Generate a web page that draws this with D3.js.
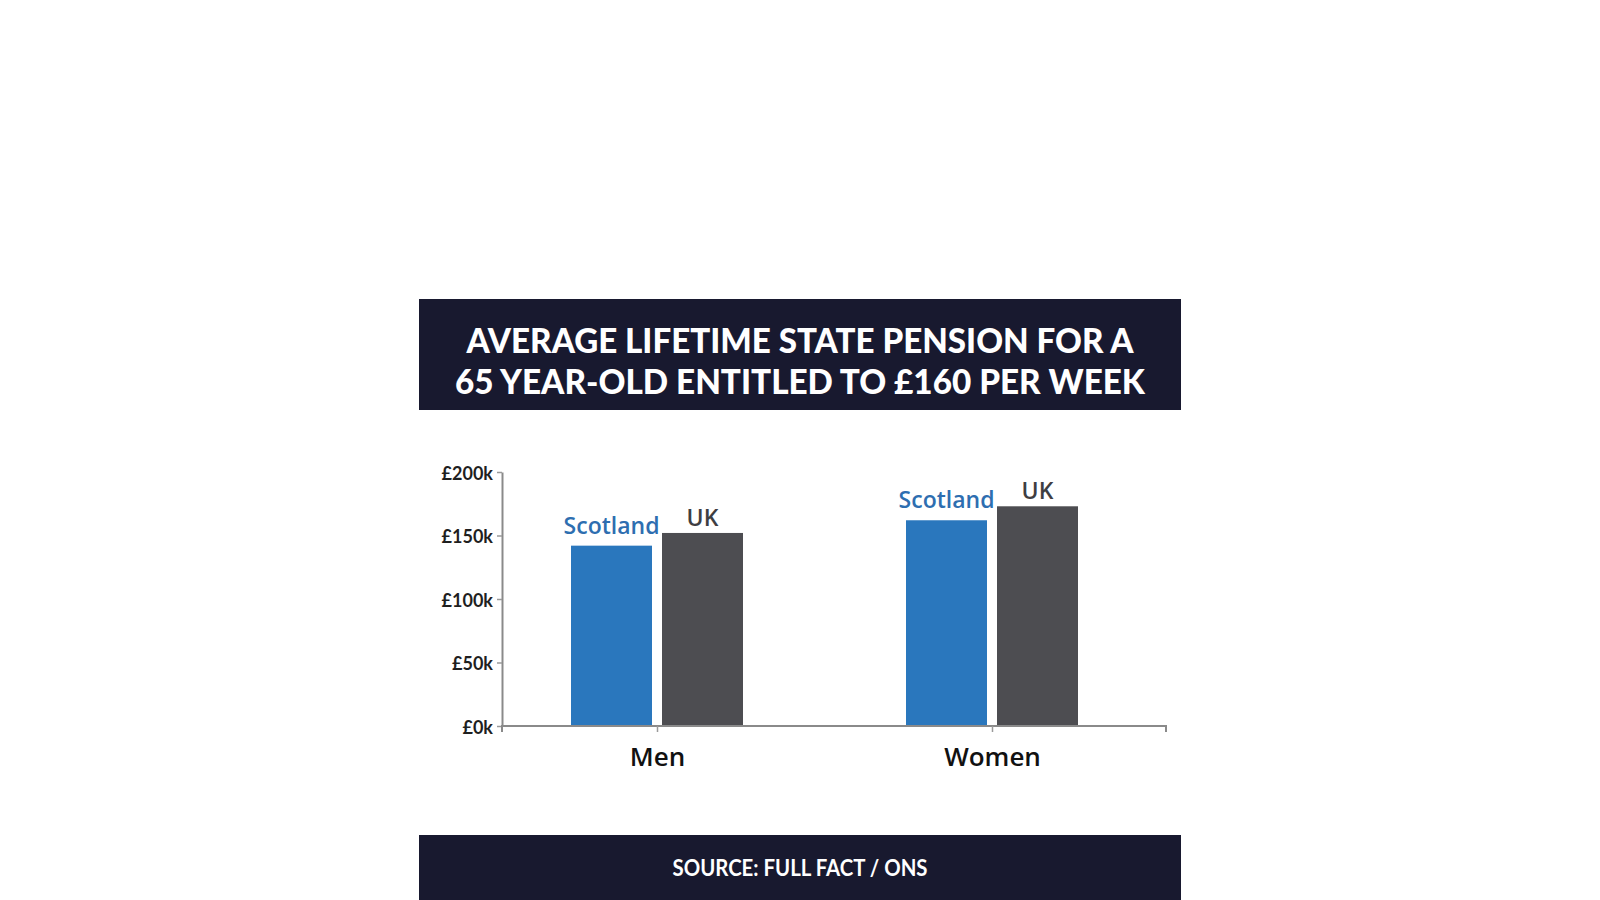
<!DOCTYPE html>
<html>
<head>
<meta charset="utf-8">
<script src="https://cdn.jsdelivr.net/npm/d3@7"></script>
<style>
  html, body { margin: 0; padding: 0; background: #fff; }
  svg { display: block; }
</style>
</head>
<body>
<svg id="chart" width="1600" height="900"></svg>
<script>
// ---- data ----
const categories = ["Men", "Women"];
const seriesNames = ["Scotland", "UK"];
const scotlandValues = [142, 162];   // £ thousands
const ukValues = [152, 173];         // £ thousands
const yTickValues = [0, 50, 100, 150, 200];
const yTickLabels = ["£0k", "£50k", "£100k", "£150k", "£200k"];
const titleLines = ["AVERAGE LIFETIME STATE PENSION FOR A", "65 YEAR-OLD ENTITLED TO £160 PER WEEK"];
const sourceText = "SOURCE: FULL FACT / ONS";

// ---- layout ----
const svg = d3.select("#chart");
const navy = "#18192f";
const colors = { Scotland: "#2a77bd", UK: "#4d4d51" };
const labelColors = { Scotland: "#2e6eb0", UK: "#3e3e42" };

const panel = { x: 419, w: 762 };
const plot = { left: 502, right: 1166, top: 472, bottom: 726 };

svg.append("rect").attr("width", 1600).attr("height", 900).attr("fill", "#fff");

// header
svg.append("rect").attr("x", panel.x).attr("y", 299).attr("width", panel.w).attr("height", 111).attr("fill", navy);
const titleW = [667, 690];
svg.selectAll("text.title").data(titleLines).join("text")
  .attr("class", "title")
  .attr("x", 800).attr("y", (d, i) => 353 + i * 41)
  .attr("text-anchor", "middle")
  .attr("fill", "#fff")
  .attr("font-family", "Lato, 'Open Sans', sans-serif")
  .attr("font-weight", 900)
  .attr("font-size", 34)
  .attr("textLength", (d, i) => titleW[i])
  .attr("lengthAdjust", "spacingAndGlyphs")
  .text(d => d);

// footer
svg.append("rect").attr("x", panel.x).attr("y", 835).attr("width", panel.w).attr("height", 65).attr("fill", navy);
svg.append("text").attr("x", 800).attr("y", 876)
  .attr("text-anchor", "middle").attr("fill", "#fff")
  .attr("font-family", "Lato, 'Open Sans', sans-serif").attr("font-weight", 700)
  .attr("font-size", 22)
  .attr("textLength", 255).attr("lengthAdjust", "spacingAndGlyphs")
  .text(sourceText);

// scales
const y = d3.scaleLinear().domain([0, 200]).range([plot.bottom, plot.top]);
const x0 = d3.scalePoint().domain(categories).range([plot.left + 155, plot.right - 174]);
const x1 = d3.scaleBand().domain(seriesNames).range([-86, 86]).paddingInner(0.11).paddingOuter(0);

const rows = categories.map((c, i) => ({
  cat: c,
  vals: [{ s: "Scotland", v: scotlandValues[i] }, { s: "UK", v: ukValues[i] }]
}));

// y axis
const yAxis = d3.axisLeft(y).tickValues(yTickValues)
  .tickFormat((d, i) => yTickLabels[i]).tickSize(5).tickPadding(4).tickSizeOuter(0);
const gy = svg.append("g").attr("transform", `translate(${plot.left},0)`).call(yAxis);
gy.select(".domain").attr("stroke", "#8a8a8a").attr("stroke-width", 2);
gy.selectAll(".tick line").attr("stroke", "#9a9a9a").attr("stroke-width", 1.5);
gy.selectAll(".tick text").attr("fill", "#1f1f1f")
  .attr("font-family", "Lato, 'Open Sans', sans-serif").attr("font-weight", 700)
  .attr("font-size", 18).attr("dy", "0.4em");

// bars
const groups = svg.selectAll("g.grp").data(rows).join("g")
  .attr("class", "grp").attr("transform", d => `translate(${x0(d.cat)},0)`);
groups.selectAll("rect").data(d => d.vals).join("rect")
  .attr("x", d => x1(d.s)).attr("width", x1.bandwidth())
  .attr("y", d => y(d.v)).attr("height", d => y(0) - y(d.v))
  .attr("fill", d => colors[d.s]);
groups.selectAll("text").data(d => d.vals).join("text")
  .attr("x", d => x1(d.s) + x1.bandwidth() / 2)
  .attr("y", d => y(d.v) - (d.s === "UK" ? 7 : 12))
  .attr("text-anchor", "middle")
  .attr("fill", d => labelColors[d.s])
  .attr("font-family", "'Open Sans', Lato, sans-serif").attr("font-weight", 600)
  .attr("font-size", 23)
  .text(d => d.s);

// x axis
const xAxis = d3.axisBottom(x0).tickSize(6).tickSizeOuter(6).tickPadding(16);
const gx = svg.append("g").attr("transform", `translate(0,${plot.bottom})`).call(xAxis);
gx.select(".domain").attr("stroke", "#8a8a8a").attr("stroke-width", 2)
  .attr("d", `M${plot.left},6V0H${plot.right}V6`);
gx.selectAll(".tick line").attr("stroke", "#9a9a9a").attr("stroke-width", 1.5);
gx.selectAll(".tick text").attr("fill", "#111")
  .attr("font-family", "'Open Sans', Lato, sans-serif").attr("font-weight", 600)
  .attr("font-size", 26);
</script>
</body>
</html>
